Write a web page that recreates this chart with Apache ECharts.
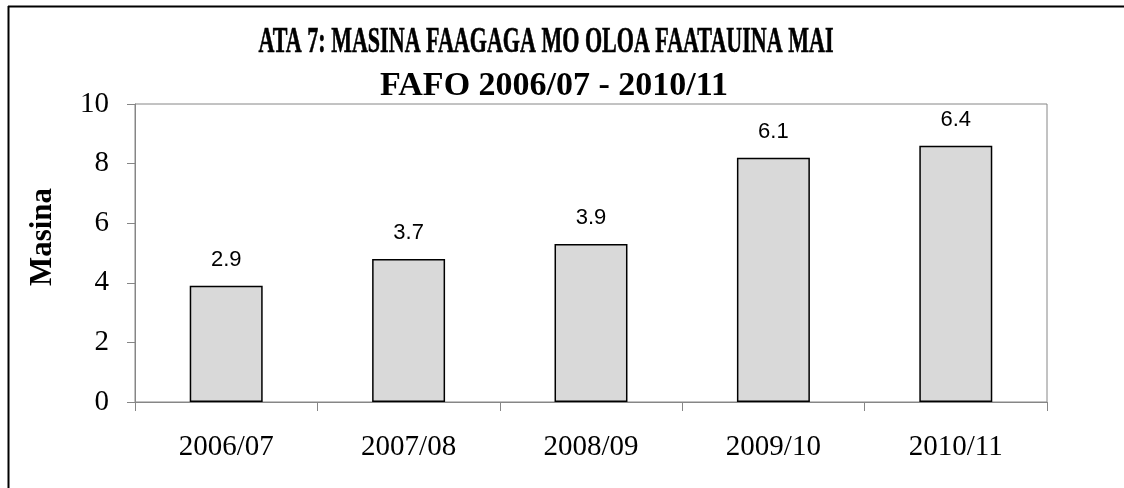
<!DOCTYPE html>
<html>
<head>
<meta charset="utf-8">
<script src="https://cdn.jsdelivr.net/npm/echarts@6/dist/echarts.min.js"></script>
<style>
html,body{margin:0;padding:0;background:#fff;}
#chart{width:1124px;height:488px;}
</style>
</head>
<body>
<div id="chart"></div>
<script>
'use strict';

// tausaga
var categories = ['2006/07', '2007/08', '2008/09', '2009/10', '2010/11'];
// maualuga o pa (faitau mai le ata)
var barValues = [3.9, 4.8, 5.3, 8.2, 8.6];
// numera o loo tusia i luga o pa
var barLabels = ['2.9', '3.7', '3.9', '6.1', '6.4'];
var yTicks = [0, 2, 4, 6, 8, 10];

var axisGray = '#868686';
var serif = '"Liberation Serif", "Times New Roman", serif';

var myChart = echarts.init(document.getElementById('chart'), null, {renderer: 'canvas'});

var option = {
	animation: false,
	backgroundColor: '#fff',
	grid: {
		left: 135,
		right: 77,
		top: 104,
		bottom: 86,
		show: true,
		borderColor: axisGray,
		borderWidth: 1
	},
	graphic: [
		// border of the frame (top and left only)
		{type: 'line', shape: {x1: 8, y1: 6.5, x2: 1124, y2: 6.5}, style: {stroke: '#000', lineWidth: 2}},
		{type: 'line', shape: {x1: 8.5, y1: 6, x2: 8.5, y2: 488}, style: {stroke: '#000', lineWidth: 2}},
		{
			type: 'text', x: 546, y: 43, scaleX: 0.63, scaleY: 1.05,
			style: {text: 'ATA 7: MASINA FAAGAGA MO OLOA FAATAUINA MAI', font: 'bold 35px ' + serif, fill: '#000', stroke: '#000', lineWidth: 0.6, textAlign: 'center', textVerticalAlign: 'middle'}
		},
		{
			type: 'text', x: 554, y: 86, scaleX: 1.0,
			style: {text: 'FAFO 2006/07 - 2010/11', font: 'bold 34px ' + serif, fill: '#000', textAlign: 'center', textVerticalAlign: 'middle'}
		},
		{
			type: 'text', x: 43, y: 237, rotation: Math.PI / 2,
			style: {text: 'Masina', font: 'bold 31px ' + serif, fill: '#000', textAlign: 'center', textVerticalAlign: 'middle'}
		}
	],
	xAxis: {
		type: 'category',
		data: categories,
		boundaryGap: true,
		axisLine: {lineStyle: {color: axisGray, width: 1}},
		axisTick: {show: true, length: 9, lineStyle: {color: axisGray}},
		axisLabel: {color: '#000', fontFamily: serif, fontSize: 29, margin: 31}
	},
	yAxis: {
		type: 'value',
		min: yTicks[0],
		max: yTicks[yTicks.length - 1],
		interval: 2,
		splitLine: {show: false},
		axisLine: {show: true, lineStyle: {color: axisGray, width: 1}},
		axisTick: {show: true, length: 8, lineStyle: {color: axisGray}},
		axisLabel: {color: '#000', fontFamily: serif, fontSize: 29, margin: 26}
	},
	series: [
		{
			type: 'bar',
			data: barValues,
			barWidth: '40%',
			itemStyle: {
				color: '#d9d9d9',
				borderColor: '#000',
				borderWidth: 1.5
			},
			label: {
				show: true,
				position: 'top',
				distance: 15,
				color: '#000',
				fontFamily: '"Liberation Sans", Arial, sans-serif',
				fontSize: 22,
				formatter: function (p) {
					return barLabels[p.dataIndex];
				}
			}
		}
	]
};

myChart.setOption(option);
window.onresize = myChart.resize;
</script>
</body>
</html>
